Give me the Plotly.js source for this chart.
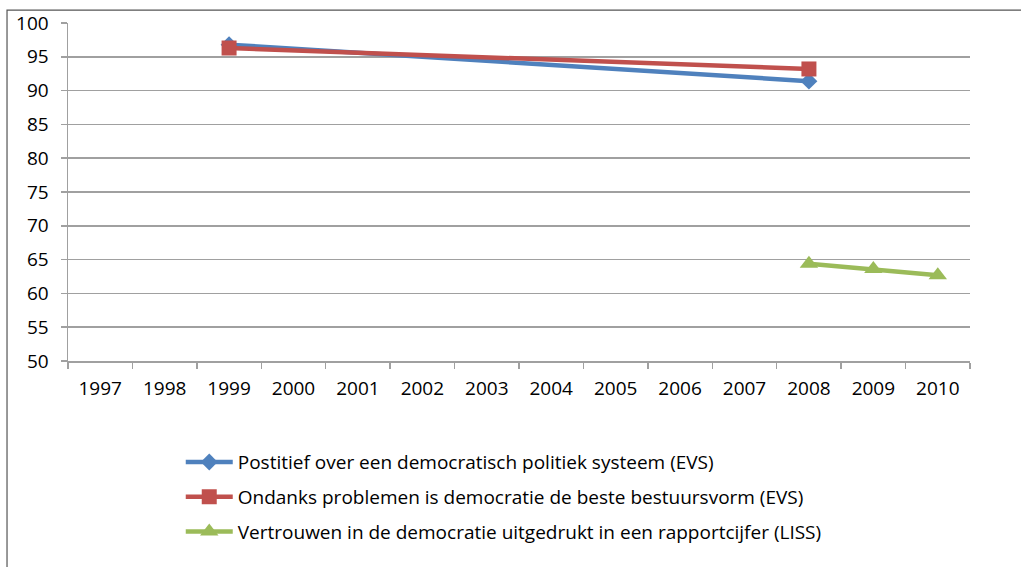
<!DOCTYPE html>
<html>
<head>
<meta charset="utf-8">
<script src="https://cdn.plot.ly/plotly-3.0.1.min.js"></script>
<style>html,body{margin:0;padding:0;background:#fff;}#chart{width:1021px;height:567px;}</style>
</head>
<body>
<div id="chart"></div>
<script>
var years = ['1997','1998','1999','2000','2001','2002','2003','2004','2005','2006','2007','2008','2009','2010'];

var evsYears = ['1999','2008'];
var positiefValues = [96.8, 91.4];
var ondanksValues = [96.3, 93.2];

var lissYears = ['2008','2009','2010'];
var vertrouwenValues = [64.4, 63.6, 62.7];

var seriesNames = [
  'Postitief over een democratisch politiek systeem (EVS)',
  'Ondanks problemen is democratie de beste bestuursvorm (EVS)',
  'Vertrouwen in de democratie uitgedrukt in een rapportcijfer (LISS)'
];

var yTicks = [50,55,60,65,70,75,80,85,90,95,100];

var traces = [
  {x: evsYears, y: positiefValues, name: seriesNames[0], type: 'scatter', mode: 'lines+markers',
   line: {color: '#4F81BD', width: 4.5}, marker: {symbol: 'diamond', size: 13, color: '#4F81BD'}, legendgroup: 'a'},
  {x: evsYears, y: ondanksValues, name: seriesNames[1], type: 'scatter', mode: 'lines+markers',
   line: {color: '#C0504D', width: 4.5}, marker: {symbol: 'square', size: 15, color: '#C0504D'}, legendgroup: 'b'},
  {x: lissYears, y: vertrouwenValues, name: seriesNames[2], type: 'scatter', mode: 'lines+markers',
   line: {color: '#9BBB59', width: 4.5}, marker: {symbol: 'triangle-up', size: 16, color: '#9BBB59'}, legendgroup: 'c'}
];

var layout = {
  width: 1021, height: 567,
  margin: {l: 68, r: 51, t: 23, b: 206},
  paper_bgcolor: '#ffffff', plot_bgcolor: '#ffffff',
  font: {family: '"Open Sans", Lato, sans-serif', size: 19, color: '#000000'},
  showlegend: true,
  legend: {x: 0.125, y: -0.243, xanchor: 'left', yanchor: 'top', orientation: 'v', itemwidth: 47,
           font: {size: 19, color: '#000000'}, tracegroupgap: 7, bgcolor: 'rgba(0,0,0,0)'},
  xaxis: {type: 'category', categoryorder: 'array', categoryarray: years, tickvals: years,
          range: [-0.5, 13.5], showline: true, linecolor: '#a0a0a0', linewidth: 1.5,
          ticks: 'outside', tickson: 'boundaries', ticklen: 6, tickcolor: '#a0a0a0', tickwidth: 1.5,
          tickfont: {size: 19, color: '#000000'},
          showgrid: false, zeroline: false, ticklabelstandoff: 10, fixedrange: true},
  yaxis: {range: [50, 100], tickvals: yTicks, showline: true, linecolor: '#a0a0a0', linewidth: 1.5,
          ticks: 'outside', ticklen: 6, tickcolor: '#a0a0a0', tickwidth: 1.5,
          tickfont: {size: 19, color: '#000000'},
          showgrid: true, gridcolor: '#a0a0a0', gridwidth: 1.5, zeroline: false,
          ticklabelstandoff: 8, fixedrange: true},
  shapes: [
    {type: 'rect', xref: 'paper', yref: 'paper', x0: -0.0676, x1: 1.2, y0: -0.8, y1: 1.038,
     line: {color: '#555555', width: 1.2}, fillcolor: 'rgba(0,0,0,0)', layer: 'below'}
  ]
};

Plotly.newPlot('chart', traces, layout, {displayModeBar: false, staticPlot: true});
</script>
</body>
</html>
